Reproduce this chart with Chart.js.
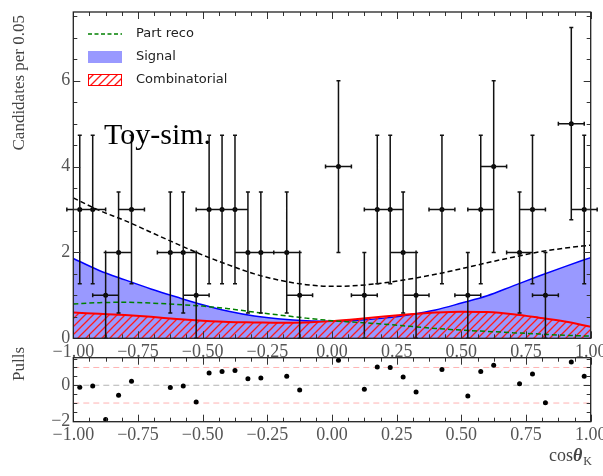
<!DOCTYPE html>
<html>
<head>
<meta charset="utf-8">
<script src="https://cdn.jsdelivr.net/npm/chart.js@4.4.1/dist/chart.umd.min.js"></script>
<style>
  html, body { margin: 0; padding: 0; background: #fff; }
  #wrap { position: relative; width: 603px; height: 476px; }
  #wrap canvas { position: absolute; left: 0; top: 0; }
</style>
</head>
<body>
<div id="wrap">
  <canvas id="fitChart" width="603" height="476"></canvas>
  <canvas id="pullChart" width="603" height="476"></canvas>
</div>
<script>
// binned toy data (only non-empty bins are drawn)
const binCentres = [-0.975, -0.925, -0.875, -0.825, -0.775, -0.625, -0.575, -0.525, -0.475, -0.425,
                    -0.375, -0.325, -0.275, -0.175, -0.125, 0.025, 0.125, 0.175, 0.225, 0.275,
                    0.325, 0.425, 0.525, 0.575, 0.625, 0.725, 0.775, 0.825, 0.925, 0.975];
const counts = [3, 3, 1, 2, 3, 2, 2, 1, 3, 3,
                3, 2, 2, 2, 1, 4, 1, 3, 3, 2,
                1, 3, 1, 3, 4, 2, 3, 1, 5, 3];
const countErrors = [1.73, 1.73, 1.0, 1.41, 1.73, 1.41, 1.41, 1.0, 1.73, 1.73,
                     1.73, 1.41, 1.41, 1.41, 1.0, 2.0, 1.0, 1.73, 1.73, 1.41,
                     1.0, 1.73, 1.0, 1.73, 2.0, 1.41, 1.73, 1.0, 2.24, 1.73];
const binHalfWidth = 0.05;
const pulls = [-0.11, -0.04, -1.93, -0.56, 0.22, -0.13, -0.04, -0.94, 0.69, 0.77,
               0.83, 0.36, 0.41, 0.51, -0.26, 1.41, -0.23, 1.02, 1.0, 0.47,
               -0.38, 0.89, -0.6, 0.77, 1.13, 0.09, 0.64, -0.98, 1.31, 0.51];

// fitted model components
const curveX = [-1, -0.9, -0.8, -0.7, -0.6, -0.5, -0.4, -0.3, -0.2, -0.1, 0,
                0.1, 0.2, 0.3, 0.4, 0.5, 0.6, 0.7, 0.8, 0.9, 1];
const totalPdf = [3.27, 2.98, 2.74, 2.47, 2.20, 1.94, 1.71, 1.50, 1.35, 1.25, 1.21,
                  1.23, 1.29, 1.38, 1.49, 1.62, 1.76, 1.89, 2.01, 2.10, 2.17];
const signalPdf = [1.86, 1.58, 1.36, 1.15, 0.96, 0.78, 0.63, 0.52, 0.45, 0.41, 0.40,
                   0.42, 0.47, 0.55, 0.66, 0.82, 0.99, 1.22, 1.45, 1.67, 1.88];
const combPdf = [0.60, 0.57, 0.54, 0.50, 0.45, 0.41, 0.38, 0.37, 0.36, 0.37, 0.40,
                 0.45, 0.51, 0.56, 0.60, 0.62, 0.61, 0.56, 0.48, 0.39, 0.27];
const partRecoPdf = [0.80, 0.83, 0.84, 0.82, 0.79, 0.75, 0.69, 0.61, 0.54, 0.47, 0.41,
                     0.37, 0.33, 0.28, 0.23, 0.19, 0.16, 0.13, 0.10, 0.07, 0.05];

const pullRefLevels = [-1, 0, 1];

// axes
const xTickValues = [-1, -0.75, -0.5, -0.25, 0, 0.25, 0.5, 0.75, 1];
const xTickLabels = ['\u22121.00', '\u22120.75', '\u22120.50', '\u22120.25', '0.00', '0.25', '0.50', '0.75', '1.00'];
const fitYTicks = [0, 2, 4, 6];
const fitYLabels = ['0', '2', '4', '6'];
const pullYTicks = [-2, 0];
const pullYLabels = ['\u22122', '0'];

const SERIF = '"Liberation Serif", "DejaVu Serif", serif';
const SANS = '"DejaVu Sans", sans-serif';
const PLOT_LEFT = 73.3, PLOT_RIGHT_PAD = 12.3;

const pts = (xs, ys) => xs.map((x, i) => ({ x, y: ys[i] }));

function makeHatch() {
  const s = 8;
  const c = document.createElement('canvas');
  c.width = s; c.height = s;
  const g = c.getContext('2d');
  g.strokeStyle = '#ff1a1a';
  g.lineWidth = 1.3;
  g.beginPath();
  g.moveTo(0, s); g.lineTo(s, 0);
  g.moveTo(-2, 2); g.lineTo(2, -2);
  g.moveTo(s - 2, s + 2); g.lineTo(s + 2, s - 2);
  g.stroke();
  return g.createPattern(c, 'repeat');
}
const hatch = makeHatch();

// inward ticks on all four sides plus the frame
const frameTicks = {
  id: 'frameTicks',
  afterDraw(chart, args, opts) {
    const { ctx, chartArea: a, scales: { x, y } } = chart;
    ctx.save();
    ctx.strokeStyle = '#333';
    ctx.lineWidth = 1;
    ctx.beginPath();
    let i = 0;
    for (let v = x.min; v <= x.max + 1e-9; v += opts.xMinor, i++) {
      const len = i % opts.xEvery === 0 ? 7 : 4;
      const px = Math.round(x.getPixelForValue(v)) + 0.5;
      ctx.moveTo(px, a.bottom); ctx.lineTo(px, a.bottom - len);
      ctx.moveTo(px, a.top); ctx.lineTo(px, a.top + len);
    }
    for (let v = opts.yStart; v <= y.max + 1e-9; v += opts.yMinor) {
      const len = Math.abs(v % opts.yMajor) < 1e-9 ? 7 : 4;
      const py = Math.round(y.getPixelForValue(v)) + 0.5;
      ctx.moveTo(a.left, py); ctx.lineTo(a.left + len, py);
      ctx.moveTo(a.right, py); ctx.lineTo(a.right - len, py);
    }
    ctx.stroke();
    ctx.lineWidth = 1.3;
    ctx.strokeStyle = '#222';
    ctx.strokeRect(a.left, a.top, a.width, a.height);
    ctx.restore();
  }
};

const errorBars = {
  id: 'errorBars',
  afterDatasetsDraw(chart) {
    const { ctx, scales: { x, y } } = chart;
    const cap = 2;
    ctx.save();
    ctx.strokeStyle = '#111';
    ctx.lineWidth = 1.5;
    ctx.beginPath();
    binCentres.forEach((c, i) => {
      const px = x.getPixelForValue(c);
      const py = y.getPixelForValue(counts[i]);
      const x0 = x.getPixelForValue(c - binHalfWidth);
      const x1 = x.getPixelForValue(c + binHalfWidth);
      const y0 = y.getPixelForValue(counts[i] - countErrors[i]);
      const y1 = y.getPixelForValue(counts[i] + countErrors[i]);
      ctx.moveTo(x0, py); ctx.lineTo(x1, py);
      ctx.moveTo(px, y0); ctx.lineTo(px, y1);
      ctx.moveTo(x0, py - cap); ctx.lineTo(x0, py + cap);
      ctx.moveTo(x1, py - cap); ctx.lineTo(x1, py + cap);
      ctx.moveTo(px - cap, y0); ctx.lineTo(px + cap, y0);
      ctx.moveTo(px - cap, y1); ctx.lineTo(px + cap, y1);
    });
    ctx.stroke();
    ctx.restore();
  }
};

function vLabel(ctx, text, x, topY) {
  ctx.save();
  ctx.translate(x, topY);
  ctx.rotate(-Math.PI / 2);
  ctx.textAlign = 'right';
  ctx.textBaseline = 'middle';
  ctx.fillText(text, 0, 0);
  ctx.restore();
}

const fitDecor = {
  id: 'fitDecor',
  afterDraw(chart) {
    const { ctx } = chart;
    ctx.save();
    ctx.fillStyle = '#444';
    ctx.font = '17px ' + SERIF;
    vLabel(ctx, 'Candidates per 0.05', 20, 15);

    ctx.fillStyle = '#000';
    ctx.font = '30px ' + SERIF;
    ctx.textAlign = 'left';
    ctx.textBaseline = 'alphabetic';
    ctx.fillText('Toy-sim.', 104, 144);

    // legend
    const hx0 = 88, hx1 = 122;
    ctx.lineWidth = 1.5;
    ctx.strokeStyle = 'green';
    ctx.setLineDash([4, 2.5]);
    ctx.beginPath(); ctx.moveTo(hx0, 34); ctx.lineTo(hx1, 34); ctx.stroke();
    ctx.setLineDash([]);
    ctx.fillStyle = 'rgba(0,0,255,0.4)';
    ctx.fillRect(hx0, 51, hx1 - hx0, 12);
    ctx.fillStyle = hatch;
    ctx.fillRect(hx0, 74, hx1 - hx0, 12);
    ctx.strokeStyle = 'red';
    ctx.lineWidth = 1;
    ctx.strokeRect(hx0 + 0.5, 74.5, hx1 - hx0 - 1, 11);

    ctx.fillStyle = '#222';
    ctx.font = '13px ' + SANS;
    ctx.textBaseline = 'middle';
    ctx.fillText('Part reco', 136, 34);
    ctx.fillText('Signal', 136, 57);
    ctx.fillText('Combinatorial', 136, 80);
    ctx.restore();
  }
};

const pullDecor = {
  id: 'pullDecor',
  afterDraw(chart) {
    const { ctx } = chart;
    ctx.save();
    ctx.fillStyle = '#444';
    ctx.font = '17px ' + SERIF;
    vLabel(ctx, 'Pulls', 20, 347);

    // x label: cos theta_K, right aligned
    const big = '18px ' + SERIF, bold = 'italic bold 18px ' + SERIF, sub = '12px ' + SERIF;
    ctx.textBaseline = 'alphabetic';
    ctx.textAlign = 'left';
    ctx.font = big; const w1 = ctx.measureText('cos').width;
    ctx.font = bold; const w2 = ctx.measureText('\u03b8').width;
    ctx.font = sub; const w3 = ctx.measureText('K').width;
    let x = 592 - (w1 + w2 + 1 + w3);
    const base = 461;
    ctx.font = big; ctx.fillText('cos', x, base); x += w1;
    ctx.font = bold; ctx.fillText('\u03b8', x, base); x += w2 + 1;
    ctx.font = sub; ctx.fillText('K', x, base + 4);
    ctx.restore();
  }
};

function xAxis(height) {
  return {
    type: 'linear', min: -1, max: 1,
    grid: { display: false, drawTicks: false }, border: { display: false },
    afterBuildTicks: s => { s.ticks = xTickValues.map(v => ({ value: v })); },
    afterFit: s => { s.height = height; s.paddingLeft = 0; s.paddingRight = 0; },
    ticks: {
      autoSkip: false, maxRotation: 0, padding: 3,
      color: '#555', font: { family: SERIF, size: 18 },
      callback: (v, i) => xTickLabels[i]
    }
  };
}

function yAxis(min, max, values, labels) {
  return {
    type: 'linear', min, max,
    grid: { display: false, drawTicks: false }, border: { display: false },
    afterBuildTicks: s => { s.ticks = values.map(v => ({ value: v })); },
    afterFit: s => { s.width = PLOT_LEFT; s.paddingTop = 0; s.paddingBottom = 0; },
    ticks: {
      padding: 3,
      color: '#555', font: { family: SERIF, size: 18 },
      callback: (v, i) => labels[i]
    }
  };
}

const lineStyle = { pointRadius: 0, fill: false, cubicInterpolationMode: 'monotone', borderWidth: 1.5 };

new Chart(document.getElementById('fitChart'), {
  type: 'line',
  data: {
    datasets: [
      { type: 'scatter', label: 'Toy data', data: pts(binCentres, counts),
        pointRadius: 2.5, pointBackgroundColor: '#000', pointBorderWidth: 0, order: 0 },
      { ...lineStyle, label: 'Total', data: pts(curveX, totalPdf),
        borderColor: '#000', borderDash: [5, 3], order: 1 },
      { ...lineStyle, label: 'Part reco', data: pts(curveX, partRecoPdf),
        borderColor: 'green', borderDash: [5, 3], order: 2 },
      { ...lineStyle, label: 'Combinatorial', data: pts(curveX, combPdf),
        borderColor: 'red', borderWidth: 2, fill: 'origin', backgroundColor: hatch, order: 3 },
      { ...lineStyle, label: 'Signal', data: pts(curveX, signalPdf),
        borderColor: 'blue', fill: 'origin', backgroundColor: 'rgba(0,0,255,0.4)', order: 4 }
    ]
  },
  options: {
    responsive: false,
    animation: false,
    events: [],
    layout: { autoPadding: false, padding: { left: 0, top: 12, right: PLOT_RIGHT_PAD, bottom: 476 - 338.3 - 30 } },
    scales: { x: xAxis(30), y: yAxis(0, 7.6, fitYTicks, fitYLabels) },
    plugins: {
      legend: { display: false },
      tooltip: { enabled: false },
      frameTicks: { xMinor: 0.0625, xEvery: 4, yStart: 0, yMinor: 0.5, yMajor: 2 }
    }
  },
  plugins: [errorBars, frameTicks, fitDecor]
});

const refColours = ['rgba(255,0,0,0.3)', 'rgba(0,0,0,0.3)', 'rgba(255,0,0,0.3)'];

new Chart(document.getElementById('pullChart'), {
  type: 'scatter',
  data: {
    datasets: [
      { label: 'Pulls', data: pts(binCentres, pulls),
        pointRadius: 2.5, pointBackgroundColor: '#000', pointBorderWidth: 0, order: 0 },
      ...pullRefLevels.map((lvl, i) => ({
        type: 'line', label: 'ref ' + lvl, data: [{ x: -1, y: lvl }, { x: 1, y: lvl }],
        borderColor: refColours[i], borderWidth: 1, borderDash: [6, 4], pointRadius: 0, order: 1
      }))
    ]
  },
  options: {
    responsive: false,
    animation: false,
    events: [],
    layout: { autoPadding: false, padding: { left: 0, top: 357.7, right: PLOT_RIGHT_PAD, bottom: 476 - 421.7 - 30 } },
    scales: { x: xAxis(30), y: yAxis(-2.05, 1.55, pullYTicks, pullYLabels) },
    plugins: {
      legend: { display: false },
      tooltip: { enabled: false },
      frameTicks: { xMinor: 0.0625, xEvery: 4, yStart: -2, yMinor: 0.5, yMajor: 2 }
    }
  },
  plugins: [frameTicks, pullDecor]
});
</script>
</body>
</html>
